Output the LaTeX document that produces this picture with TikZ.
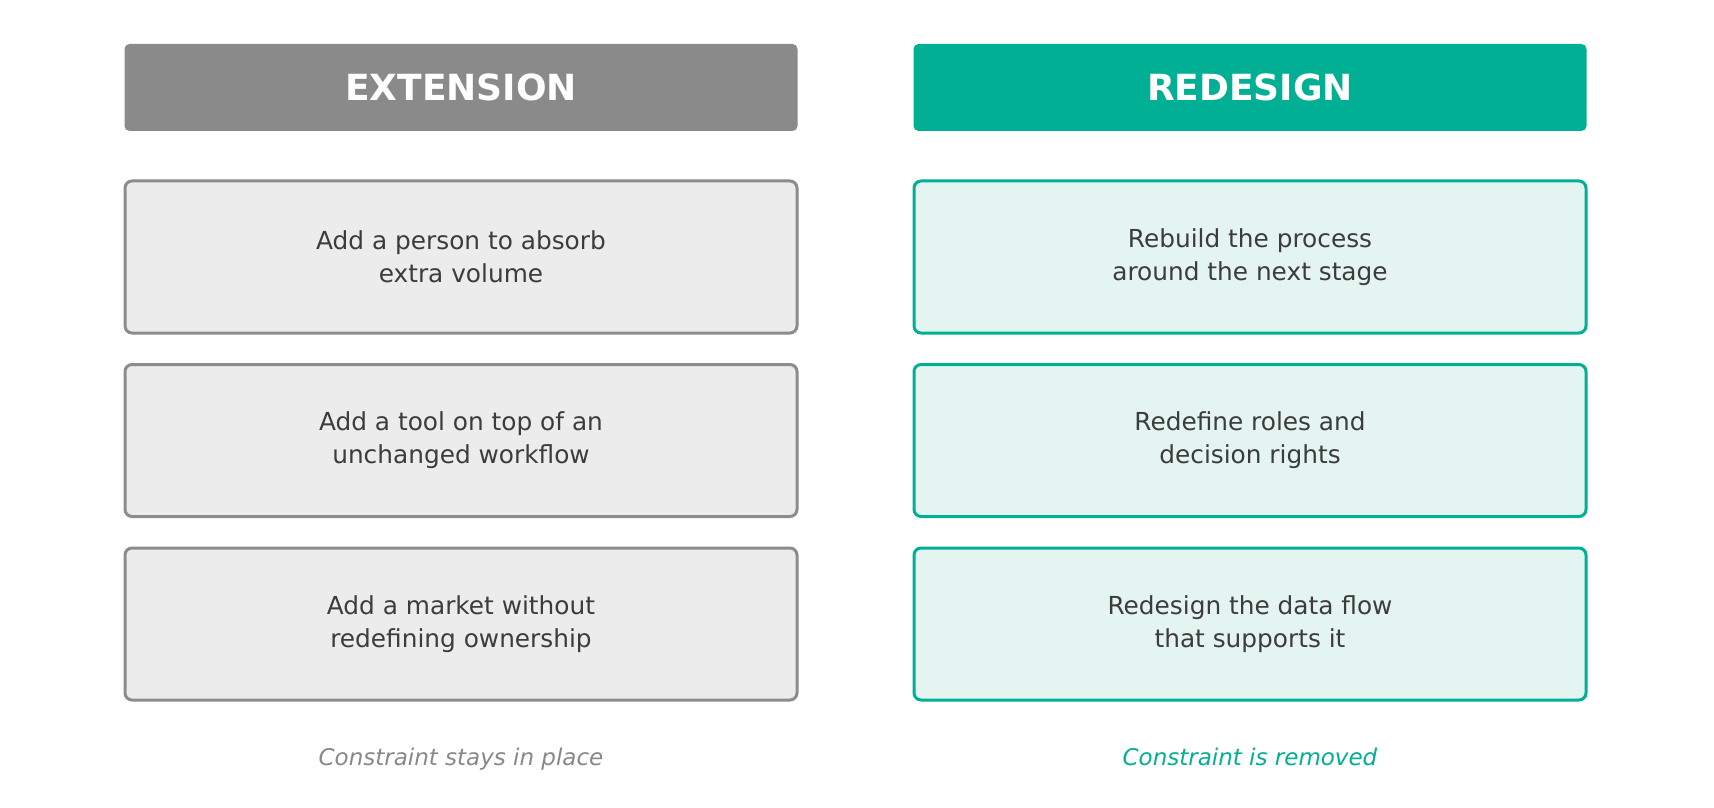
\documentclass[tikz,border=0pt]{standalone}
\usepackage{fontspec}
\setmainfont{DejaVu Sans}
\definecolor{teal}{RGB}{0,175,148}
\definecolor{hdgray}{RGB}{138,138,138}
\definecolor{boxgray}{RGB}{236,236,236}
\definecolor{bordgray}{RGB}{140,140,140}
\definecolor{tealfill}{RGB}{228,245,241}
\definecolor{txt}{RGB}{60,60,60}
\definecolor{capgray}{RGB}{136,136,136}
\tikzset{
  header/.style={rectangle, rounded corners=2.5pt, inner sep=0pt,
    minimum width=336.5pt, minimum height=43.5pt, text=white,
    font=\fontsize{18}{22}\selectfont\bfseries},
  itembox/.style={rectangle, rounded corners=3.5pt, line width=1.5pt, inner sep=0pt,
    minimum width=336pt, minimum height=76pt, text=txt, align=center,
    font=\fontsize{12.4}{16.4}\selectfont},
  graybox/.style={itembox, draw=bordgray, fill=boxgray},
  tealbox/.style={itembox, draw=teal, fill=tealfill},
  caption/.style={anchor=base, inner sep=0pt, font=\fontsize{11.5}{14}\selectfont\itshape}
}
\begin{document}
\begin{tikzpicture}[x=0.5pt, y=-0.5pt]
\useasboundingbox (0,0) rectangle (1714,808);
\node[header, fill=hdgray] (hext) at (461,87.5) {EXTENSION};
\node[header, fill=teal] (hred) at (1250,87.5) {REDESIGN};
\node[graybox] (e1) at (461,257) {Add a person to absorb\\extra volume};
\node[graybox] (e2) at (461,440.5) {Add a tool on top of an\\unchanged workflow};
\node[graybox] (e3) at (461,624) {Add a market without\\redefining ownership};
\node[tealbox] (r1) at (1250,257) {Rebuild the process\\around the next stage};
\node[tealbox] (r2) at (1250,440.5) {Redefine roles and\\decision rights};
\node[tealbox] (r3) at (1250,624) {Redesign the data flow\\that supports it};
\node[caption, text=capgray] (cext) at (461,765.7) {Constraint stays in place};
\node[caption, text=teal] (cred) at (1250,765.7) {Constraint is removed};
\end{tikzpicture}
\end{document}
